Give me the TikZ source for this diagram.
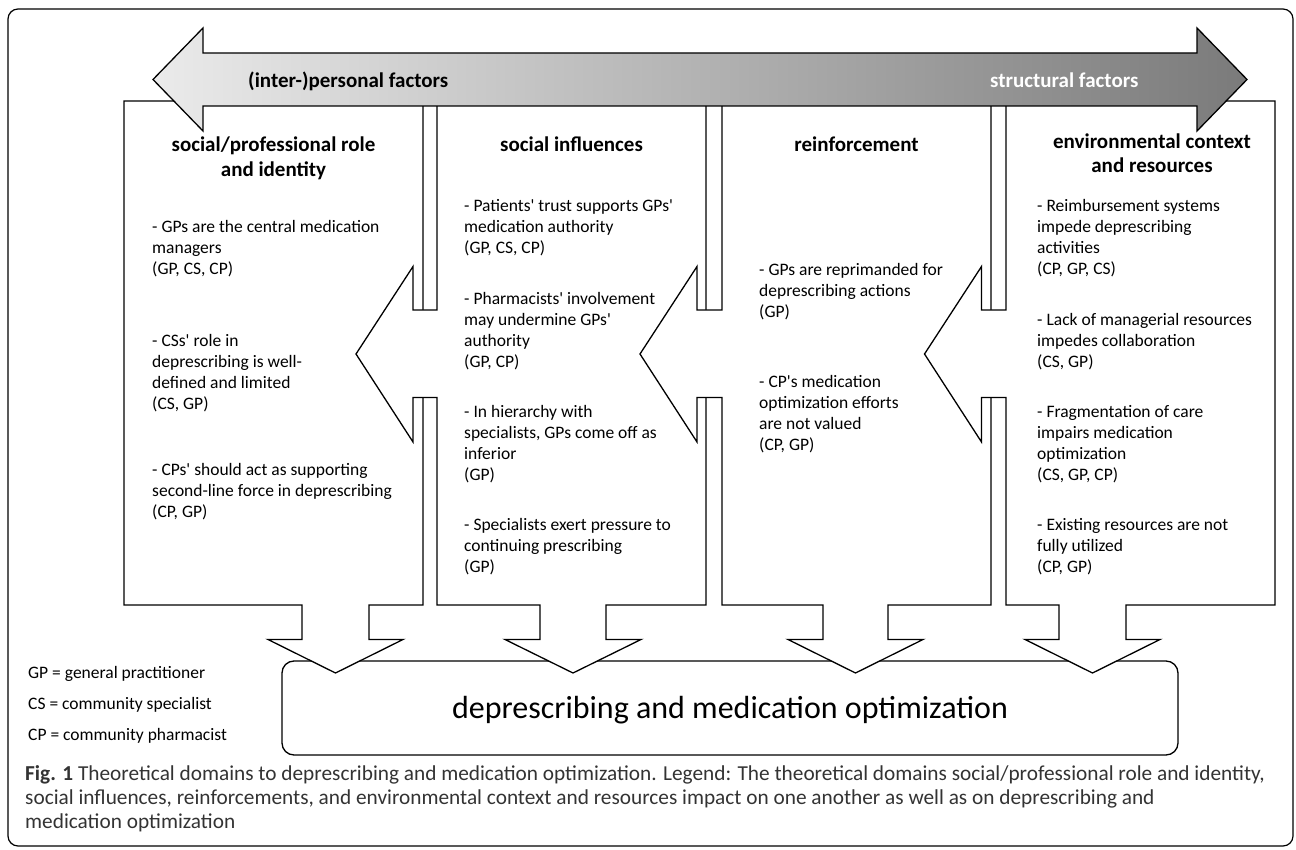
\documentclass[tikz,border=0pt]{standalone}
\usepackage{fontspec}
\setmainfont{Carlito}[Ligatures=TeXOff]
\newcommand\lnstrut{\rule{0pt}{14pt}}
\newcommand\ttstrut{\rule{0pt}{17pt}}
\begin{document}
\begin{tikzpicture}[x=1pt,y=-1pt,
  shapebox/.style={draw=black, line width=1.3pt, fill=white, line join=miter},
  body/.style={font=\fontsize{17.5}{21}\selectfont, align=left, anchor=north west, inner sep=0pt},
  ttl/.style={font=\bfseries\fontsize{21}{24.5}\selectfont, align=center, anchor=north, inner sep=0pt},
  lgd/.style={font=\fontsize{17.5}{20}\selectfont, anchor=base west, inner sep=0pt},
  capt/.style={font=\fontsize{21.3}{24}\selectfont, text=black!80, anchor=base west, inner sep=0pt}]
\useasboundingbox (0,0) rectangle (1296,850);
% outer frame
\draw[line width=1.2pt, rounded corners=10pt] (8,9) rectangle (1293,846);
% bottom box
\draw[line width=1.3pt, rounded corners=12pt, fill=white] (282,661) rectangle (1178,755);
\node[font=\fontsize{32}{38}\selectfont, anchor=base, inner sep=0pt] (goal) at (730,718) {deprescribing and medication optimization};
% column 1
\draw[shapebox] (124,101) -- (423,101) -- (423,605) -- (369,605) -- (369,639.5) -- (403,639.5) -- (335.5,673) -- (268,639.5) -- (302,639.5) -- (302,605) -- (124,605) -- cycle;
% column 2
\draw[shapebox] (437,101) -- (706,101) -- (706,605) -- (606,605) -- (606,639.5) -- (641,639.5) -- (573,673) -- (505,639.5) -- (540,639.5) -- (540,605) -- (437,605) -- (437,397.5) -- (413,397.5) -- (413,442) -- (356,354) -- (413,266.5) -- (413,310) -- (437,310) -- cycle;
% column 3
\draw[shapebox] (722,101) -- (991,101) -- (991,605) -- (888,605) -- (888,639.5) -- (923,639.5) -- (855.5,673) -- (788,639.5) -- (823,639.5) -- (823,605) -- (722,605) -- (722,397.5) -- (697,397.5) -- (697,442) -- (640,354) -- (697,266.5) -- (697,310) -- (722,310) -- cycle;
% column 4
\draw[shapebox] (1006,101) -- (1275,101) -- (1275,605) -- (1126,605) -- (1126,639.5) -- (1160,639.5) -- (1092.5,673) -- (1025,639.5) -- (1059,639.5) -- (1059,605) -- (1006,605) -- (1006,397.5) -- (981.5,397.5) -- (981.5,442) -- (924.5,354) -- (981.5,266.5) -- (981.5,310) -- (1006,310) -- cycle;
% big double arrow
\shadedraw[left color=black!8, right color=black!52, draw=black, line width=1.3pt, line join=miter]
  (153,79.5) -- (203,28) -- (203,53) -- (1197,53) -- (1197,28) -- (1247,79.5) -- (1197,131) -- (1197,106) -- (203,106) -- (203,131) -- cycle;
\node[font=\bfseries\fontsize{21}{24}\selectfont, anchor=base west, inner sep=0pt] (pers) at (248,87.5) {(inter-)personal factors};
\node[font=\bfseries\fontsize{21}{24}\selectfont, text=white, anchor=base west, inner sep=0pt] (struct) at (990,87.5) {structural factors};
% titles
\node[ttl] (t1) at (273.5,134.5) {\ttstrut social/professional role\\and identity};
\node[ttl] (t2) at (571.5,134.5) {\ttstrut social influences};
\node[ttl] (t3) at (856.5,134.5) {\ttstrut reinforcement};
\node[ttl] (t4) at (1152,131) {\ttstrut environmental context\\and resources};
% column 1 text
\node[body] (a1) at (152,218.5) {\lnstrut- GPs are the central medication\\managers\\(GP, CS, CP)};
\node[body] (a2) at (152,332) {\lnstrut- CSs' role in\\deprescribing is well-\\defined and limited\\(CS, GP)};
\node[body] (a3) at (152,461) {\lnstrut- CPs' should act as supporting\\second-line force in deprescribing\\(CP, GP)};
% column 2 text
\node[body] (b1) at (464,197.5) {\lnstrut- Patients' trust supports GPs'\\medication authority\\(GP, CS, CP)};
\node[body] (b2) at (464,290) {\lnstrut- Pharmacists' involvement\\may undermine GPs'\\authority\\(GP, CP)};
\node[body] (b3) at (464,403) {\lnstrut- In hierarchy with\\specialists, GPs come off as\\inferior\\(GP)};
\node[body] (b4) at (464,516.5) {\lnstrut- Specialists exert pressure to\\continuing prescribing\\(GP)};
% column 3 text
\node[body] (c1) at (759,261) {\lnstrut- GPs are reprimanded for\\deprescribing actions\\(GP)};
\node[body] (c2) at (759,373.5) {\lnstrut- CP's medication\\optimization efforts\\are not valued\\(CP, GP)};
% column 4 text
\node[body] (d1) at (1037,197.5) {\lnstrut- Reimbursement systems\\impede deprescribing\\activities\\(CP, GP, CS)};
\node[body] (d2) at (1037,311) {\lnstrut- Lack of managerial resources\\impedes collaboration\\(CS, GP)};
\node[body] (d3) at (1037,403) {\lnstrut- Fragmentation of care\\impairs medication\\optimization\\(CS, GP, CP)};
\node[body] (d4) at (1037,516.5) {\lnstrut- Existing resources are not\\fully utilized\\(CP, GP)};
% legend
\node[lgd] (l1) at (28,678) {GP = general practitioner};
\node[lgd] (l2) at (28,709) {CS = community specialist};
\node[lgd] (l3) at (28,740) {CP = community pharmacist};
% caption
\node[capt] (cap1) at (25,780) {\textbf{Fig. 1} Theoretical domains to deprescribing and medication optimization. Legend: The theoretical domains social/professional role and identity,};
\node[capt] (cap2) at (25,804) {social influences, reinforcements, and environmental context and resources impact on one another as well as on deprescribing and};
\node[capt] (cap3) at (25,828) {medication optimization};
\end{tikzpicture}
\end{document}
